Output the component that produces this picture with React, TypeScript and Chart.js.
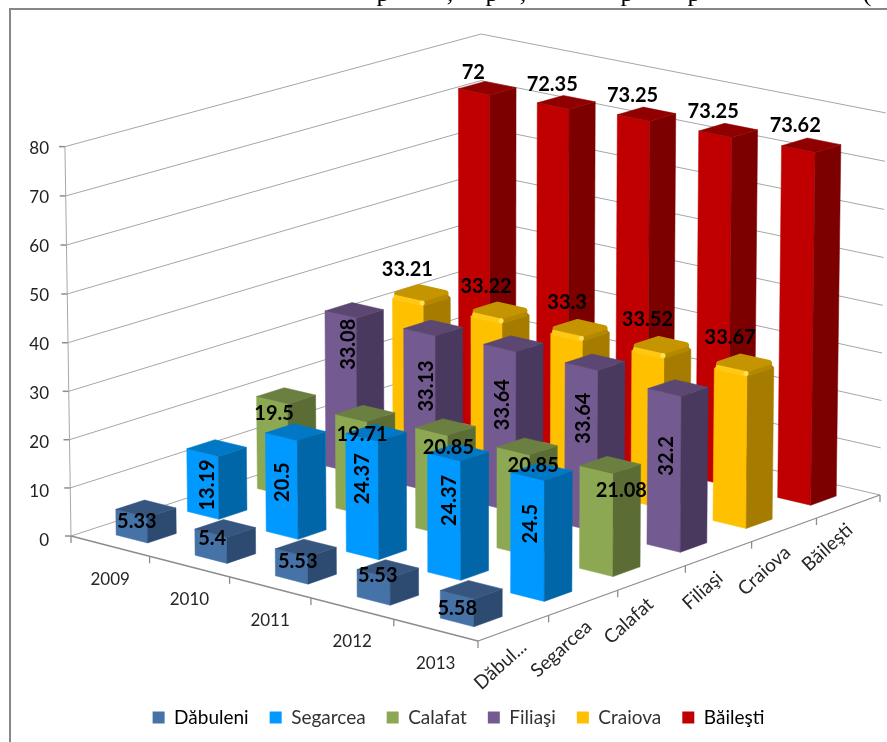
import React, { useEffect, useRef } from "react";
import { Chart, registerables } from "chart.js";

Chart.register(...registerables);

const years = ["2009", "2010", "2011", "2012", "2013"];
const seriesNames = ["Dăbuleni", "Segarcea", "Calafat", "Filiaşi", "Craiova", "Băileşti"];
const depthLabels = ["Dăbul...", "Segarcea", "Calafat", "Filiaşi", "Craiova", "Băileşti"];
const dabuleni = [5.33, 5.4, 5.53, 5.53, 5.58];
const segarcea = [13.19, 20.5, 24.37, 24.37, 24.5];
const calafat = [19.5, 19.71, 20.85, 20.85, 21.08];
const filiasi = [33.08, 33.13, 33.64, 33.64, 32.2];
const craiova = [33.21, 33.22, 33.3, 33.52, 33.67];
const bailesti = [72, 72.35, 73.25, 73.25, 73.62];
const seriesValues = [dabuleni, segarcea, calafat, filiasi, craiova, bailesti];

// front, side, top colours for each series
const faces = [
  ["#4573a8", "#2d4a70", "#36567f"],
  ["#0099ff", "#0066a8", "#0078c6"],
  ["#8da852", "#5b6c35", "#6b7f40"],
  ["#735a90", "#49395f", "#5b4771"],
  ["#ffc000", "#a67c00", "#c49500"],
  ["#c00000", "#7c0000", "#900000"],
];
// where each value label sits relative to the centre of its bar's top (chart style, not data)
const labelStyle = [
  { dx: -15, dy: 17, rot: false, nudge: [[6, -4], [2, -7], [7, -4], [5, -10], [1, 2]] },
  { dx: -9, dy: 47, rot: true, nudge: [[0, -10], [-4, 3], [-4, -1], [0, 1], [-2, 5]] },
  { dx: 10, dy: 23, rot: false, nudge: [[-22, -5], [-13, -2], [-7, -3], [-4, -4], [1, 3]] },
  { dx: -8, dy: 57, rot: true, nudge: [[2, -23], [1, 1], [-3, 4], [-3, -1], [-3, 11]] },
  { dx: -14, dy: -21, rot: false, nudge: [[0, 2], [0, 1], [1, 0], [0, 0], [0, 0]] },
  { dx: -15, dy: -18, rot: false, nudge: [[1, 2], [1, 0], [1, -1], [0, -1], [-1, -2]] },
];
const depthNudge = [[7, -6], [-2, 3], [-3, 0], [4, -6], [0, -2], [-1, -2]];

const FONT = "Lato, Carlito, sans-serif";
const GRID = "#a6a6a6";
const AXIS = "#8c8c8c";

// Camera: where the floor corners of the plot box land, and the vanishing point of verticals.
const floor = { A: [71, 536], B: [478, 641], C: [880, 495], D: [481, 402] };
const VANISH_X = 483;
const VANISH_Y = 27000;
const TILT = -0.0145;

function homography() {
  const [x0, y0] = floor.A, [x1, y1] = floor.B, [x2, y2] = floor.C, [x3, y3] = floor.D;
  const sx = x0 - x1 + x2 - x3, sy = y0 - y1 + y2 - y3;
  const dx1 = x1 - x2, dy1 = y1 - y2, dx2 = x3 - x2, dy2 = y3 - y2;
  const den = dx1 * dy2 - dx2 * dy1;
  const g = (sx * dy2 - dx2 * sy) / den;
  const h = (dx1 * sy - sx * dy1) / den;
  return { a: x1 - x0 + g * x1, b: x3 - x0 + h * x3, c: x0, d: y1 - y0 + g * y1, e: y3 - y0 + h * y3, f: y0, g, h };
}
const H = homography();
// u: along years (0..1), v: along series (0..1), t: height (0..1)
function project(u: number, v: number, t: number): [number, number] {
  const w = H.g * u + H.h * v + 1 + t * TILT;
  return [
    (H.a * u + H.b * v + H.c + t * TILT * VANISH_X) / w,
    (H.d * u + H.e * v + H.f + t * TILT * VANISH_Y) / w,
  ];
}

function poly(ctx: CanvasRenderingContext2D, pts: [number, number][], fill: string, round = 0) {
  ctx.beginPath();
  pts.forEach((p, i) => (i ? ctx.lineTo(p[0], p[1]) : ctx.moveTo(p[0], p[1])));
  ctx.closePath();
  ctx.fillStyle = fill;
  ctx.fill();
  ctx.strokeStyle = fill;
  ctx.lineJoin = "round";
  ctx.lineWidth = round || 0.5;
  ctx.stroke();
}
function segment(ctx: CanvasRenderingContext2D, a: [number, number], b: [number, number], color: string, width = 1) {
  ctx.beginPath();
  ctx.moveTo(a[0], a[1]);
  ctx.lineTo(b[0], b[1]);
  ctx.strokeStyle = color;
  ctx.lineWidth = width;
  ctx.stroke();
}

const captionBits: [string, number][] = [["p", 383], [",", 450], ["p", 492], [",", 523], ["p", 627], ["p", 694], ["(", 867]];

const scene3d = {
  id: "scene3d",
  beforeDatasetDraw() {
    return false;
  },
  beforeDatasetsDraw(chart: any) {
    const ctx: CanvasRenderingContext2D = chart.ctx;
    const { y, x, depth } = chart.scales;
    ctx.save();
    // page frame and cut-off caption
    ctx.strokeStyle = "#878787";
    ctx.lineWidth = 2;
    ctx.beginPath();
    ctx.moveTo(10, 742);
    ctx.lineTo(10, 9);
    ctx.lineTo(887, 9);
    ctx.stroke();
    ctx.fillStyle = "#000";
    ctx.font = "26px 'Liberation Serif'";
    ctx.textAlign = "center";
    ctx.textBaseline = "alphabetic";
    captionBits.forEach(([s, px]) => ctx.fillText(s, px, 1));

    // walls
    const span = y.bottom - y.top;
    y.ticks.forEach((tick: any) => {
      const t = (y.bottom - y.getPixelForValue(tick.value)) / span;
      const a = project(0, 0, t), d = project(0, 1, t), c = project(1, 1, t);
      segment(ctx, a, d, GRID);
      segment(ctx, d, c, GRID);
      segment(ctx, [a[0] - 6, a[1]], a, AXIS, 1.5);
    });
    segment(ctx, project(0, 0, 0), project(0, 0, 1), GRID);

    // floor axes with ticks
    const A = project(0, 0, 0), B = project(1, 0, 0), C = project(1, 1, 0);
    segment(ctx, A, B, AXIS, 1.3);
    segment(ctx, B, C, AXIS, 1.3);
    for (let i = 0; i <= years.length; i++) {
      const p = project(i / years.length, 0, 0);
      segment(ctx, p, [p[0], p[1] + 7], AXIS, 1.3);
    }
    for (let i = 1; i <= depthLabels.length; i++) {
      const p = project(1, i / depthLabels.length, 0);
      segment(ctx, p, [p[0], p[1] + 7], AXIS, 1.3);
    }

    // category labels
    ctx.fillStyle = "#262626";
    ctx.textAlign = "center";
    ctx.textBaseline = "middle";
    ctx.font = `17px ${FONT}`;
    years.forEach((lab, i) => {
      const u = (x.getPixelForValue(i) - x.left) / x.width;
      const p = project(u, 0, 0);
      ctx.fillText(lab, p[0], p[1] + 33);
    });
    ctx.font = `19px ${FONT}`;
    depthLabels.forEach((lab, i) => {
      const v = (depth.getPixelForValue(i) - depth.left) / depth.width;
      const p = project(1, v, 0);
      ctx.save();
      ctx.translate(p[0] - 20 + depthNudge[i][0], p[1] + 43 + depthNudge[i][1]);
      ctx.rotate((-42 * Math.PI) / 180);
      ctx.fillText(lab, 0, 0);
      ctx.restore();
    });
    ctx.restore();
  },
  afterDatasetsDraw(chart: any) {
    const ctx: CanvasRenderingContext2D = chart.ctx;
    const { y, x, depth } = chart.scales;
    const span = y.bottom - y.top;
    const halfU = (0.4 * (x.getPixelForValue(1) - x.getPixelForValue(0))) / x.width / 2;
    const halfV = (0.4 * (depth.getPixelForValue(1) - depth.getPixelForValue(0))) / depth.width / 2;
    const labels: { text: string; px: number; py: number; rot: boolean }[] = [];
    ctx.save();
    for (let s = seriesValues.length - 1; s >= 0; s--) {
      const v = (depth.getPixelForValue(s) - depth.left) / depth.width;
      const v0 = v - halfV, v1 = v + halfV;
      const [front, side, top] = faces[s];
      seriesValues[s].forEach((value, i) => {
        const u = (x.getPixelForValue(i) - x.left) / x.width;
        const u0 = u - halfU, u1 = u + halfU;
        const t = (y.bottom - y.getPixelForValue(value)) / span;
        if (s === 4) {
          // bevelled top: chamfered faces, rounded lid, bright shoulder and corner highlight
          const tl = t - 0.012;
          const inset = 0.006;
          poly(ctx, [project(u0, v0, 0), project(u1, v0, 0), project(u1, v0, tl - 0.012), project(u1 - 0.002, v0, tl - 0.004), project(u0 + inset, v0, tl - 0.004), project(u0, v0, tl - 0.012)], front);
          poly(ctx, [project(u1, v0, 0), project(u1, v1, 0), project(u1, v1, tl - 0.012), project(u1, v1 - inset, tl - 0.004), project(u1, v0, tl - 0.004)], side);
          poly(ctx, [project(u0 + inset, v0 + inset, tl), project(u1 - inset, v0 + inset, tl), project(u1 - inset, v1 - inset, tl), project(u0 + inset, v1 - inset, tl)], top, 6);
          poly(ctx, [project(u1 - 0.001, v0, tl - 0.012), project(u1 - 0.001, v1 - inset, tl - 0.012), project(u1 - 0.001, v1 - inset, tl - 0.004), project(u1 - 0.001, v0, tl - 0.004)], "#b58800", 1.5);
          poly(ctx, [project(u0 + inset, v0, tl - 0.012), project(u1 - 0.003, v0, tl - 0.012), project(u1 - 0.003, v0, tl - 0.003), project(u0 + inset, v0, tl - 0.003)], "#ffc814", 2);
          const c = project(u1 - 0.004, v0, tl - 0.006);
          ctx.beginPath();
          ctx.arc(c[0], c[1], 2.5, 0, Math.PI * 2);
          ctx.fillStyle = "#ffdf55";
          ctx.fill();
        } else {
          poly(ctx, [project(u0, v0, 0), project(u1, v0, 0), project(u1, v0, t), project(u0, v0, t)], front);
          poly(ctx, [project(u1, v0, 0), project(u1, v1, 0), project(u1, v1, t), project(u1, v0, t)], side);
          poly(ctx, [project(u0, v0, t), project(u1, v0, t), project(u1, v1, t), project(u0, v1, t)], top);
        }
        const c = project(u, v, t);
        const st = labelStyle[s];
        labels.push({ text: String(value), px: c[0] + st.dx + st.nudge[i][0], py: c[1] + st.dy + st.nudge[i][1], rot: st.rot });
      });
    }
    ctx.fillStyle = "#000";
    ctx.font = `bold 20px ${FONT}`;
    ctx.textAlign = "center";
    ctx.textBaseline = "middle";
    labels.forEach((l) => {
      ctx.save();
      ctx.translate(l.px, l.py);
      if (l.rot) ctx.rotate(-Math.PI / 2);
      ctx.fillText(l.text, 0, 0);
      ctx.restore();
    });
    ctx.restore();
  },
};

export default function App() {
  const ref = useRef<HTMLCanvasElement>(null);
  useEffect(() => {
    const chart = new Chart(ref.current!, {
      type: "bar",
      data: {
        labels: years,
        datasets: seriesNames.map((name, s) => ({
          label: name,
          data: seriesValues[s],
          backgroundColor: faces[s][0],
        })),
      },
      plugins: [scene3d],
      options: {
        responsive: false,
        animation: false,
        layout: { padding: { left: 20, right: -10, top: 149, bottom: 5 } },
        plugins: {
          tooltip: { enabled: false },
          title: { display: false },
          legend: {
            position: "bottom",
            labels: {
              boxWidth: 12,
              boxHeight: 12,
              padding: 21,
              font: { family: FONT, size: 19 },
              generateLabels: (c: any) =>
                c.data.datasets.map((d: any, i: number) => ({
                  text: d.label,
                  fillStyle: d.backgroundColor,
                  strokeStyle: d.backgroundColor,
                  lineWidth: 0,
                  datasetIndex: i,
                  fontColor: i === 0 || i === 5 ? "#000" : "#333",
                })),
            },
          },
        },
        scales: {
          x: {
            type: "category",
            offset: true,
            position: "bottom",
            grid: { display: false },
            border: { display: false },
            ticks: { display: false },
            afterFit: (s: any) => {
              s.height = 146;
            },
          },
          depth: {
            type: "category",
            axis: "x",
            labels: depthLabels,
            offset: true,
            display: false,
          },
          y: {
            min: 0,
            max: 80,
            grid: { display: false },
            border: { display: false },
            ticks: { stepSize: 10, padding: 8, color: "#222", font: { family: FONT, size: 17 } },
            afterFit: (s: any) => {
              s.width = 45;
            },
          },
        },
      } as any,
    });
    return () => chart.destroy();
  }, []);
  return (
    <canvas
      ref={ref}
      width={887}
      height={742}
      style={{ position: "absolute", left: 0, top: 0, display: "block", background: "#fff" }}
    />
  );
}
